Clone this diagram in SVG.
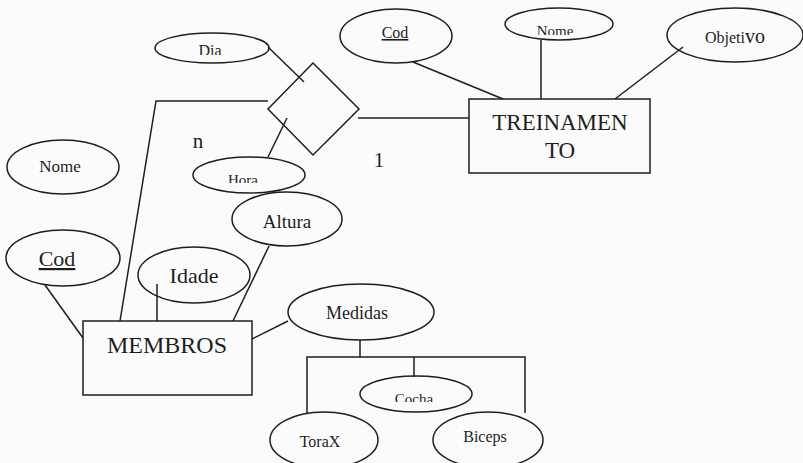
<svg xmlns="http://www.w3.org/2000/svg" width="803" height="463" viewBox="0 0 803 463">
<style>
.s{fill:none;stroke:#1e1e1e;stroke-width:1.5}
text{font-family:'Liberation Serif','DejaVu Serif',serif;fill:#1e1e1e;text-anchor:middle}
</style>
<defs>
<clipPath id="cDia"><rect x="150" y="30" width="130" height="25"/></clipPath>
<clipPath id="cHora"><rect x="190" y="150" width="120" height="33"/></clipPath>
<clipPath id="cNome"><rect x="500" y="5" width="120" height="30"/></clipPath>
<clipPath id="cCocha"><rect x="355" y="370" width="120" height="32"/></clipPath>
</defs>
<rect width="803" height="463" fill="#fbfbfb"/>
<g id="connectors" class="s">
<line x1="268" y1="47" x2="304" y2="82"/>
<polyline points="268,101 156,101 120,321"/>
<line x1="287" y1="118" x2="268" y2="157"/>
<line x1="358" y1="118" x2="469" y2="118"/>
<line x1="413" y1="62" x2="503" y2="99"/>
<line x1="541" y1="40" x2="541" y2="99"/>
<line x1="683" y1="47" x2="615" y2="99"/>
<line x1="45" y1="285" x2="83" y2="338"/>
<line x1="157" y1="284" x2="157" y2="321"/>
<line x1="269" y1="246" x2="233" y2="321"/>
<line x1="252" y1="339" x2="288" y2="321"/>
<line x1="360" y1="340" x2="360" y2="357"/>
<polyline points="307,413 307,357 525,357 525,413"/>
<line x1="414" y1="357" x2="414" y2="377"/>
</g>
<g id="relacao"><polygon class="s" points="313,63 359,109 313,155 268,109"/></g>
<g id="card-n"><text x="198" y="148" font-size="21">n</text></g>
<g id="card-1"><text x="379" y="167" font-size="21">1</text></g>
<g id="dia"><ellipse class="s" cx="212" cy="48" rx="57" ry="15"/><text x="210" y="56" font-size="16" clip-path="url(#cDia)">Dia</text></g>
<g id="hora"><ellipse class="s" cx="249" cy="175" rx="56" ry="18"/><text x="243" y="185" font-size="15" clip-path="url(#cHora)">Hora</text></g>
<g id="treinamento"><rect class="s" x="469" y="99" width="181" height="74"/><text x="560" y="130" font-size="23">TREINAMEN</text><text x="560" y="158" font-size="23">TO</text></g>
<g id="t-cod"><ellipse class="s" cx="396" cy="36" rx="56" ry="27"/><text x="395" y="38" font-size="16" text-decoration="underline">Cod</text></g>
<g id="t-nome"><ellipse class="s" cx="559" cy="24" rx="54" ry="16"/><text x="555" y="36" font-size="15" clip-path="url(#cNome)">Nome</text></g>
<g id="t-objetivo"><ellipse class="s" cx="735" cy="35" rx="68" ry="27"/><text x="735" y="43" font-size="16">Objeti<tspan font-size="20">vo</tspan></text></g>
<g id="m-nome"><ellipse class="s" cx="63" cy="167" rx="56" ry="27"/><text x="60" y="172" font-size="17">Nome</text></g>
<g id="m-cod"><ellipse class="s" cx="63" cy="258" rx="57" ry="28"/><text x="57" y="266" font-size="22" text-decoration="underline">Cod</text></g>
<g id="idade"><ellipse class="s" cx="194" cy="275" rx="56" ry="28"/><text x="194" y="283" font-size="22">Idade</text></g>
<g id="altura"><ellipse class="s" cx="287" cy="219" rx="55" ry="27"/><text x="287" y="228" font-size="19">Altura</text></g>
<g id="membros"><rect class="s" x="83" y="321" width="169" height="74"/><text x="167" y="353" font-size="24">MEMBROS</text></g>
<g id="medidas"><ellipse class="s" cx="361" cy="312" rx="73" ry="28"/><text x="357" y="319" font-size="18">Medidas</text></g>
<g id="cocha"><ellipse class="s" cx="416" cy="394" rx="56" ry="18"/><text x="414" y="404" font-size="15" clip-path="url(#cCocha)">Cocha</text></g>
<g id="torax"><ellipse class="s" cx="324" cy="440" rx="54" ry="28"/><text x="320" y="447" font-size="16">ToraX</text></g>
<g id="biceps"><ellipse class="s" cx="488" cy="440" rx="55" ry="28"/><text x="485" y="442" font-size="16">Biceps</text></g>
</svg>
